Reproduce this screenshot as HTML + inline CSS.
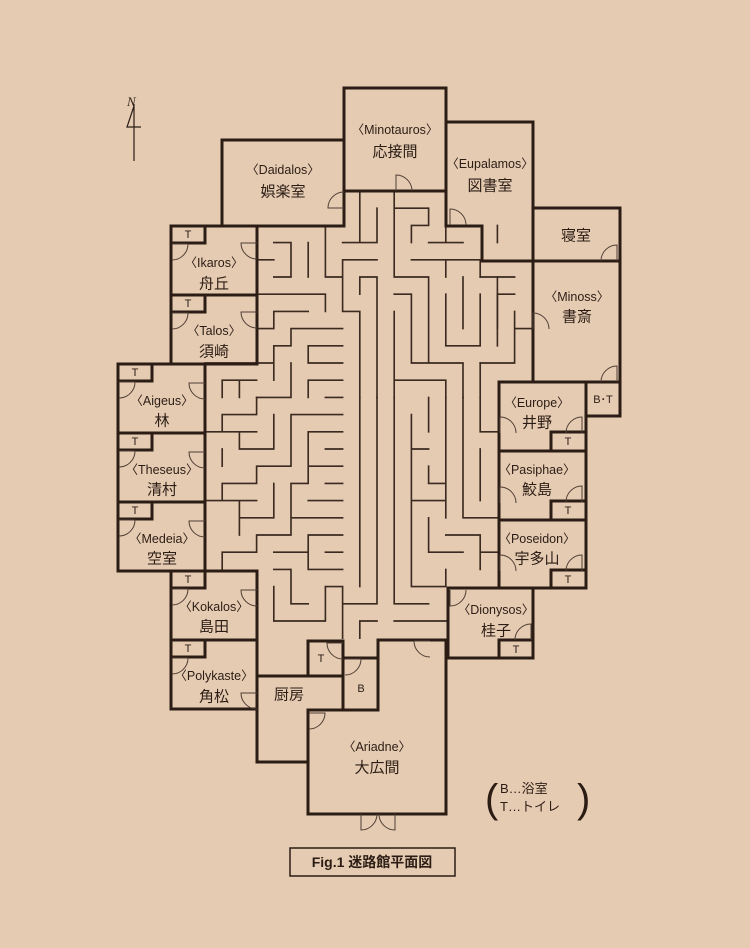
<!DOCTYPE html>
<html><head><meta charset="utf-8"><style>
html,body{margin:0;padding:0;background:#e6cbb3;}
svg{display:block}
text{font-family:"Liberation Sans","Noto Sans CJK JP",sans-serif;fill:#2b1d14;}
.l{font-size:12.5px}
.j{font-size:15px}
.s{font-size:11px}
</style></head><body>
<svg width="750" height="948" viewBox="0 0 750 948" xmlns="http://www.w3.org/2000/svg">
<rect width="750" height="948" fill="#e6cbb3"/>
<!-- maze thin walls in grid units -->
<g transform="translate(205,191) scale(17.2)" fill="none" stroke="#3a2a1f" stroke-width="0.095" stroke-linecap="square">
<path d="M9 0V3 M8 3H10 M10 1V3 M11 0V5 M11 1H13 M13 1V2 M12 2H13 M12 2V3 M13 3H15 M14 2V3 M12 4H16 M14 4V5 M16 4V5 M8 4H10 M8 4V7 M8 7H9 M9 7V12 M9 5H10 M9 5V6 M10 5V12 M11 5H13 M13 5V10 M11 6H12 M12 6V10 M12 10H15 M15 10V12 M11 7V12 M15 5V8 M14 6V9 M14 9H16 M16 6V9 M17 5V8 M16 10V12 M11 11H14 M14 11V12 M7 2V5 M7 5H8 M4 3H5 M5 3V5 M4 5H5 M3 4H4 M6 3V5 M3 6H7 M7 6V7 M4 7H6 M4 7V8 M3 8H4 M5 8H8 M5 8V9 M4 9H5 M4 9V11 M6 9H8 M6 9V10 M6 10H8 M0 10H4 M1 11H3 M1 11V12 M2 11V12 M6 11H8 M6 11V12 M7 12H8 M3 12H5 M5 10V12"/>
<path d="M3 12V13 M1 13H3 M1 13V14 M0 14H3 M2 14V15 M2 15H4 M4 13V15 M5 13H8 M5 13V16 M3 16H5 M3 16V17 M1 17H3 M1 17V18 M1 15V16 M0 18H3 M2 18V20 M2 19H4 M4 17V19 M6 14H8 M6 14V17 M7 15H8 M6 16H8 M5 17H6 M7 17H8 M5 17V20 M6 18H8 M5 19H8 M3 20H5 M3 20V21 M1 21H3 M4 21H6 M1 21V22 M4 22H5 M5 22V24 M5 24H6 M6 20V22 M6 20H8 M7 21H8 M6 22H8 M4 23V25 M4 25H7 M7 23V25 M7 23H8 M8 23V26 M9 12V23 M10 12V24 M8 24H10 M11 12V24 M11 24H13 M9 25H10 M9 25V26 M11 25H14 M12 13V23 M12 23H14 M12 15H13 M13 12V14 M13 16V17 M13 17H14 M14 12V19 M12 18H14 M13 19V21 M13 21H15 M14 20H16 M16 20V22 M16 21H17 M14 22V23 M15 12V19 M15 19H17 M16 15V18 M16 14H17 M16 12V14"/>
<path d="M16 5H18 M18 7V10 M18 8H19 M17 6V9 M17 6H18 M16 10H18 M17 2V3 M15 2H16"/>
</g>
<!-- thick walls -->
<g fill="none" stroke="#2b1d14" stroke-width="3" stroke-linecap="square">
<rect x="344" y="88" width="102" height="103"/>
<path d="M344 140H222V226H344V140"/>
<path d="M446 122H533V382 M446 191V226H482V261H533 M533 208H620V382H533 M533 261H620"/>
<path d="M499 382H620V416H586 M586 382V588 M499 382V588H586 M499 451H586 M499 520H586 M551 451V432H586 M551 520V501H586 M551 588V570H586"/>
<path d="M448 588H533V658H448V588 M499 658V640H533"/>
<path d="M171 226H344 M171 226V364H257V226 M171 295H257 M171 243H205V226 M171 312H205V295"/>
<path d="M205 364H118V571H205V364 M118 433H205 M118 502H205 M118 381H152V364 M118 450H152V433 M118 519H152V502"/>
<path d="M171 571H257V762H308 M171 571V709H257 M171 640H257 M171 588H205V571 M171 657H205V640"/>
<path d="M257 676H343 M308 641H343V710 M308 641V676 M343 658H378 M378 640V710 M308 710H378 M308 710V814H446V640 M378 640H446"/>
</g>
<path d="M343 641V658" stroke="#2b1d14" stroke-width="1.5"/>
<!-- doors -->
<g fill="none" stroke="#4e3e33" stroke-width="1">
<path d="M396 191V175A16 16 0 0 1 412 191"/>
<path d="M344 208H328A16 16 0 0 1 344 192"/>
<path d="M450 225V209A16 16 0 0 1 466 225"/>
<path d="M617 261V245A16 16 0 0 0 601 261"/>
<path d="M617 382V366A16 16 0 0 0 601 382"/>
<path d="M533 329V313A16 16 0 0 1 549 329"/>
<path d="M500 433V417A16 16 0 0 1 516 433"/>
<path d="M582 433V417A16 16 0 0 0 566 433"/>
<path d="M500 503V487A16 16 0 0 1 516 503"/>
<path d="M582 502V486A16 16 0 0 0 566 502"/>
<path d="M500 571V555A16 16 0 0 1 516 571"/>
<path d="M582 571V555A16 16 0 0 0 566 571"/>
<path d="M450 590V606A16 16 0 0 0 466 590"/>
<path d="M531 640V624A16 16 0 0 0 515 640"/>
<path d="M172 244H188A16 16 0 0 1 172 260"/>
<path d="M172 313H188A16 16 0 0 1 172 329"/>
<path d="M119 382H135A16 16 0 0 1 119 398"/>
<path d="M119 451H135A16 16 0 0 1 119 467"/>
<path d="M119 520H135A16 16 0 0 1 119 536"/>
<path d="M172 589H188A16 16 0 0 1 172 605"/>
<path d="M172 658H188A16 16 0 0 1 172 674"/>
<path d="M257 243H241A16 16 0 0 0 257 259"/>
<path d="M257 312H241A16 16 0 0 0 257 328"/>
<path d="M205 383H189A16 16 0 0 0 205 399"/>
<path d="M205 452H189A16 16 0 0 0 205 468"/>
<path d="M205 521H189A16 16 0 0 0 205 537"/>
<path d="M257 590H241A16 16 0 0 0 257 606"/>
<path d="M257 693H241A16 16 0 0 0 257 709"/>
<path d="M343 643H327A16 16 0 0 0 343 659"/>
<path d="M345 659H361A16 16 0 0 1 345 675"/>
<path d="M430 641H414A16 16 0 0 0 430 657"/>
<path d="M309 713H325A16 16 0 0 1 309 729"/>
<path d="M361 814V830A16 16 0 0 0 377 814 M395 814V830A16 16 0 0 1 379 814"/>
</g>
<!-- labels -->
<g text-anchor="middle" dominant-baseline="central">
<text class="l" x="395" y="130">〈Minotauros〉</text><text class="j" x="395" y="152">応接間</text>
<text class="l" x="283" y="170">〈Daidalos〉</text><text class="j" x="283" y="192">娯楽室</text>
<text class="l" x="490" y="164">〈Eupalamos〉</text><text class="j" x="490" y="186">図書室</text>
<text class="j" x="576" y="236">寝室</text>
<text class="l" x="577" y="297">〈Minoss〉</text><text class="j" x="577" y="317">書斎</text>
<text class="l" x="214" y="263">〈Ikaros〉</text><text class="j" x="214" y="284">舟丘</text>
<text class="l" x="214" y="331">〈Talos〉</text><text class="j" x="214" y="352">須崎</text>
<text class="l" x="162" y="401">〈Aigeus〉</text><text class="j" x="162" y="421">林</text>
<text class="l" x="162" y="470">〈Theseus〉</text><text class="j" x="162" y="490">清村</text>
<text class="l" x="162" y="539">〈Medeia〉</text><text class="j" x="162" y="559">空室</text>
<text class="l" x="214" y="607">〈Kokalos〉</text><text class="j" x="214" y="627">島田</text>
<text class="l" x="214" y="676">〈Polykaste〉</text><text class="j" x="214" y="697">角松</text>
<text class="l" x="537" y="403">〈Europe〉</text><text class="j" x="537" y="423">井野</text>
<text class="l" x="537" y="470">〈Pasiphae〉</text><text class="j" x="537" y="490">鮫島</text>
<text class="l" x="537" y="539">〈Poseidon〉</text><text class="j" x="537" y="559">宇多山</text>
<text class="l" x="496" y="610">〈Dionysos〉</text><text class="j" x="496" y="631">桂子</text>
<text class="l" x="377" y="747">〈Ariadne〉</text><text class="j" x="377" y="768">大広間</text>
<text class="j" x="289" y="695">厨房</text>
<text class="s" x="361" y="689">B</text>
<text class="s" x="321" y="659">T</text>
<text class="s" x="603" y="400">B･T</text>
<text class="s" x="188" y="235">T</text><text class="s" x="188" y="304">T</text>
<text class="s" x="135" y="373">T</text><text class="s" x="135" y="442">T</text><text class="s" x="135" y="511">T</text>
<text class="s" x="188" y="580">T</text><text class="s" x="188" y="649">T</text>
<text class="s" x="568" y="442">T</text><text class="s" x="568" y="511">T</text><text class="s" x="568" y="580">T</text>
<text class="s" x="516" y="650">T</text>
</g>
<!-- compass -->
<g stroke="#2b1d14" fill="none" stroke-width="1.2">
<path d="M134 104V161 M134 106L127 127H141"/>
</g>
<text x="127" y="106" style="font-size:13px;font-style:italic;font-family:'Liberation Serif',serif">N</text>
<!-- legend -->
<text x="485" y="812" style="font-size:40px;font-weight:300">(</text>
<text x="577" y="812" style="font-size:40px;font-weight:300">)</text>
<text x="500" y="793" style="font-size:13px">B…浴室</text>
<text x="500" y="811" style="font-size:13px">T…トイレ</text>
<!-- caption -->
<rect x="290" y="848" width="165" height="28" fill="none" stroke="#2b1d14" stroke-width="1.5"/>
<text x="372" y="867" text-anchor="middle" style="font-size:14px;font-weight:bold">Fig.1 迷路館平面図</text>
</svg>
</body></html>
